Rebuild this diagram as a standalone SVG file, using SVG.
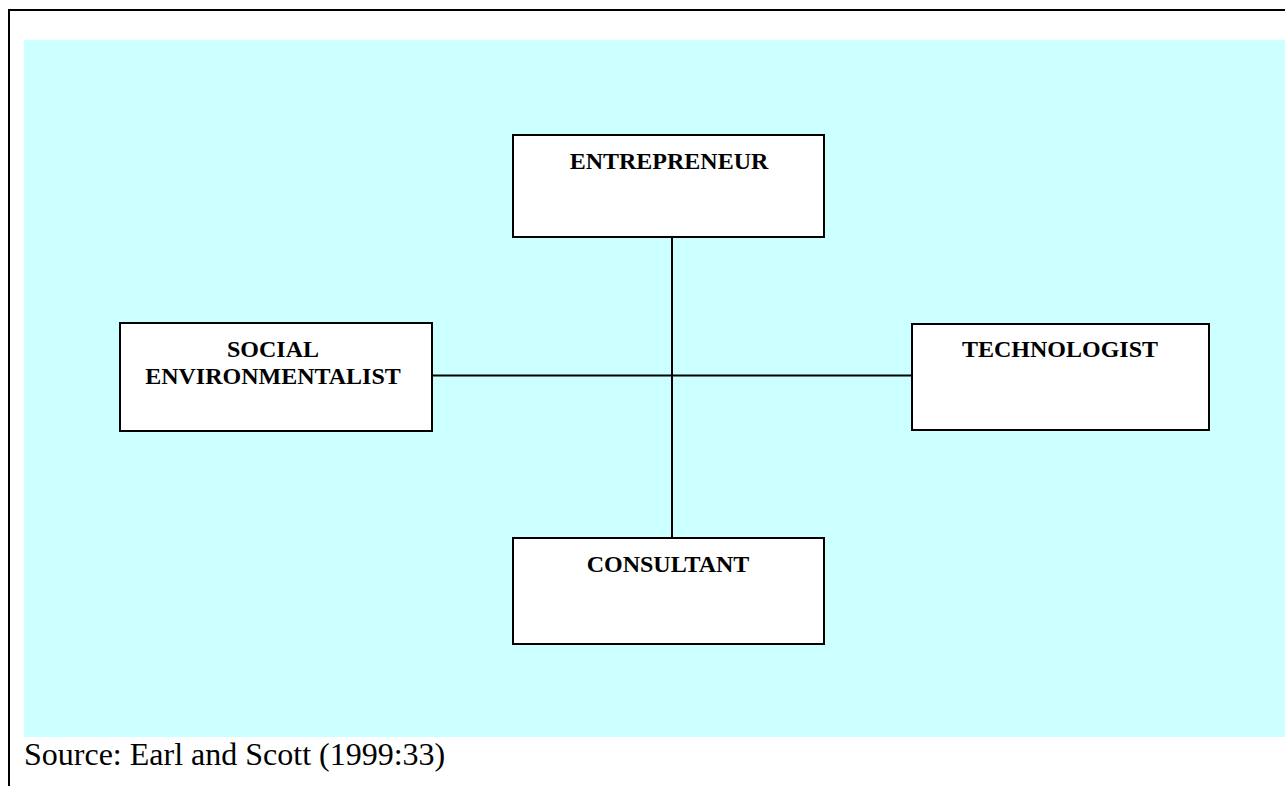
<svg xmlns="http://www.w3.org/2000/svg" width="1285" height="786" viewBox="0 0 1285 786">
  <style>
    .box { fill: #ffffff; stroke: #000000; stroke-width: 2; }
    .link { stroke: #000000; stroke-width: 2; fill: none; }
    .label { font-family: "Liberation Serif", "Times New Roman", serif; font-weight: bold; font-size: 24px; fill: #000000; text-anchor: middle; }
    .source { font-family: "Liberation Serif", "Times New Roman", serif; font-size: 32px; fill: #000000; }
  </style>
  <rect x="0" y="0" width="1285" height="786" fill="#ffffff"/>
  <!-- page frame -->
  <line x1="9" y1="10" x2="1285" y2="10" stroke="#000" stroke-width="2"/>
  <line x1="9" y1="9" x2="9" y2="786" stroke="#000" stroke-width="2"/>
  <!-- background panel -->
  <rect x="24" y="40" width="1261" height="697" fill="#ccffff"/>

  <g id="connectors">
    <line class="link" x1="672" y1="237" x2="672" y2="538"/>
    <line class="link" x1="432" y1="375.5" x2="912" y2="375.5"/>
  </g>

  <g id="entrepreneur">
    <rect class="box" x="513" y="135" width="311" height="102"/>
    <text class="label" x="669" y="169">ENTREPRENEUR</text>
  </g>

  <g id="social-environmentalist">
    <rect class="box" x="120" y="323" width="312" height="108"/>
    <text class="label" x="273" y="357">SOCIAL</text>
    <text class="label" x="273" y="384">ENVIRONMENTALIST</text>
  </g>

  <g id="technologist">
    <rect class="box" x="912" y="324" width="297" height="106"/>
    <text class="label" x="1060" y="357">TECHNOLOGIST</text>
  </g>

  <g id="consultant">
    <rect class="box" x="513" y="538" width="311" height="106"/>
    <text class="label" x="668" y="572">CONSULTANT</text>
  </g>

  <text class="source" x="24" y="765">Source: Earl and Scott (1999:33)</text>
</svg>
